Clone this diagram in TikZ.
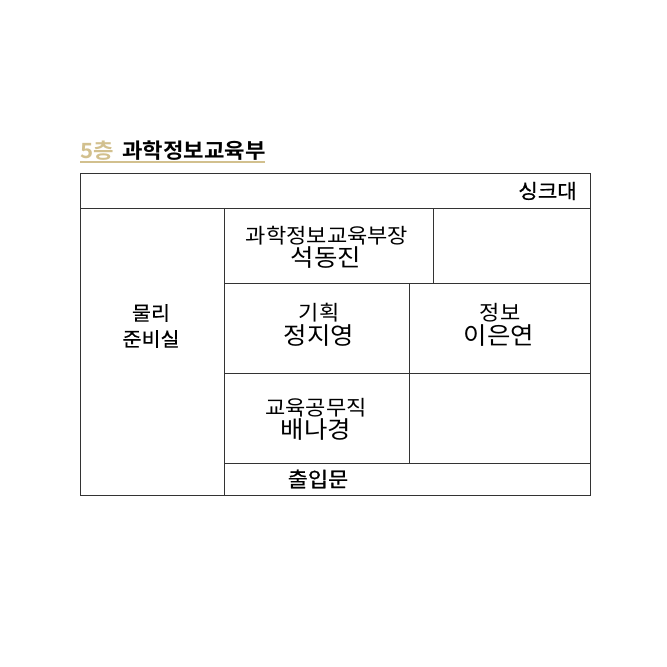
\documentclass[tikz,border=0pt]{standalone}
\usepackage{fontspec}
\setmainfont{Noto Sans CJK KR}[BoldFont=* Bold,FakeStretch=1.06]
\newfontfamily\medfont{Noto Sans CJK KR}[FakeStretch=1.06,FakeBold=0.7]
\definecolor{gold}{HTML}{D2C08E}
\definecolor{edge}{HTML}{333333}
\begin{document}
\begin{tikzpicture}[x=1pt,y=-1pt,
  wall/.style={draw=edge,line width=0.9pt},
  role/.style={inner sep=0pt,font=\fontsize{20.8}{20.8}\selectfont},
  person/.style={inner sep=0pt,font=\fontsize{24}{24}\selectfont},
  room/.style={inner sep=0pt,font=\medfont\fontsize{20}{20}\selectfont}]
\useasboundingbox (0,0) rectangle (667,667);
% corner coordinates
\coordinate (tl) at (80,173);
\coordinate (br) at (590,495);
% title
\node[inner sep=0pt,anchor=west,font=\bfseries\fontsize{21}{21}\selectfont,text=gold] (floor) at (80,151) {5층};
\node[inner sep=0pt,anchor=west,font=\bfseries\fontsize{21}{21}\selectfont] (dept) at (122,151) {과학정보교육부};
\coordinate (ulA) at (80,161.5);
\coordinate (ulB) at (265,161.5);
\draw[gold,line width=2pt] (ulA) -- (ulB);
% walls
\draw[wall] (tl) rectangle (br);
\coordinate (s1) at (80,208); \coordinate (s2) at (590,208);
\draw[wall] (s1) -- (s2);
\coordinate (c1) at (224,208); \coordinate (c2) at (224,495);
\draw[wall] (c1) -- (c2);
\coordinate (r1a) at (224,283); \coordinate (r1b) at (590,283);
\draw[wall] (r1a) -- (r1b);
\coordinate (r2a) at (224,373); \coordinate (r2b) at (590,373);
\draw[wall] (r2a) -- (r2b);
\coordinate (r3a) at (224,463); \coordinate (r3b) at (590,463);
\draw[wall] (r3a) -- (r3b);
\coordinate (v1a) at (433,208); \coordinate (v1b) at (433,283);
\draw[wall] (v1a) -- (v1b);
\coordinate (v2a) at (409,283); \coordinate (v2b) at (409,463);
\draw[wall] (v2a) -- (v2b);
% labels
\node[room,anchor=east] (sink) at (577,191) {싱크대};
\node[room,font=\medfont\fontsize{19.5}{19.5}\selectfont] (lab1) at (151,313) {물리};
\node[room,font=\medfont\fontsize{19.5}{19.5}\selectfont] (lab2) at (151,339) {준비실};
\node[role] (headrole) at (327,235.5) {과학정보교육부장};
\node[person] (headname) at (326,258) {석동진};
\node[role] (planrole) at (319,313) {기획};
\node[person] (planname) at (319,335.5) {정지영};
\node[role] (inforole) at (500,313) {정보};
\node[person] (infoname) at (499,335.5) {이은연};
\node[role] (staffrole) at (316,408) {교육공무직};
\node[person] (staffname) at (316,430) {배나경};
\node[room,font=\medfont\fontsize{20.7}{20.7}\selectfont] (door) at (318,479) {출입문};
\end{tikzpicture}
\end{document}
